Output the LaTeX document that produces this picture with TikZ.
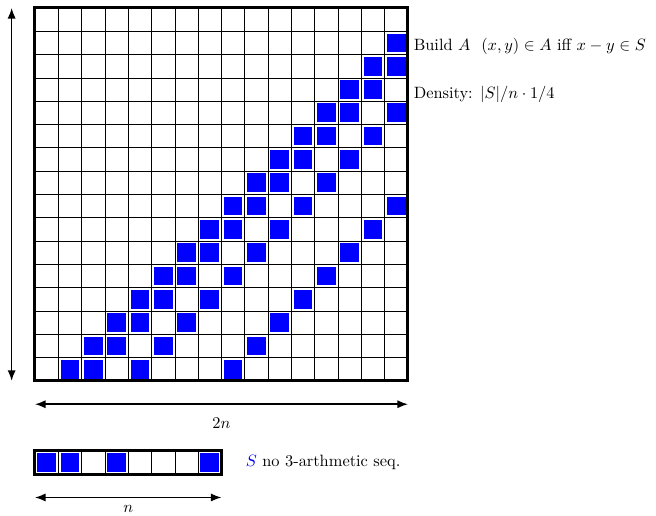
\documentclass[tikz,border=0pt]{standalone}
\usetikzlibrary{arrows.meta}
\begin{document}
\begin{tikzpicture}[x=0.5cm,y=0.5cm,
  cellfill/.style={fill=blue},
  gridline/.style={line width=0.4pt,step=0.5cm},
  frameline/.style={line width=1.8pt},
  dimarrow/.style={line width=0.9pt,{Latex[length=6.5pt,width=5pt]}-{Latex[length=6.5pt,width=5pt]}}]
\useasboundingbox (-1.5,-5.79) rectangle (26.64,16.34);
% big grid A
\foreach \r in {0,...,15}{
  \foreach \s in {0,1,3,7}{
    \pgfmathtruncatemacro{\cc}{\r+1+\s}
    \ifnum\cc<16
      \fill[cellfill] (\cc+0.1,\r+0.1) rectangle (\cc+0.9,\r+0.9);
    \fi
  }
}
\draw[gridline] (0,0) grid (16,16);
\draw[frameline] (0,0) rectangle (16,16);
% strip S
\foreach \s in {0,1,3,7}{
  \fill[cellfill] (\s+0.1,-3.9) rectangle (\s+0.9,-3.1);
}
\draw[gridline] (0,-4) grid (8,-3);
\draw[frameline] (0,-4) rectangle (8,-3);
% dimension arrows
\coordinate (vtop) at (-1,16);
\coordinate (vbot) at (-1,0);
\coordinate (hl) at (0,-1);
\coordinate (hr) at (16,-1);
\coordinate (sl) at (0,-5);
\coordinate (sr) at (8,-5);
\draw[dimarrow] (vbot) -- (vtop);
\draw[dimarrow] (hl) -- node[below=4.5pt] (twon) {$2n$} (hr);
\draw[dimarrow] (sl) -- node[below=1pt] (nlab) {$n$} (sr);
% texts
\node[anchor=west] (build) at (16,14.35) {Build $A$ \ $(x,y)\in A$ iff $x-y\in S$};
\node[anchor=west] (dens) at (16,12.3) {Density: $|S|/n\cdot 1/4$};
\node[anchor=west] (stext) at (8.8,-3.5) {{\color{blue}$S$} no 3-arthmetic seq.};
\end{tikzpicture}
\end{document}
